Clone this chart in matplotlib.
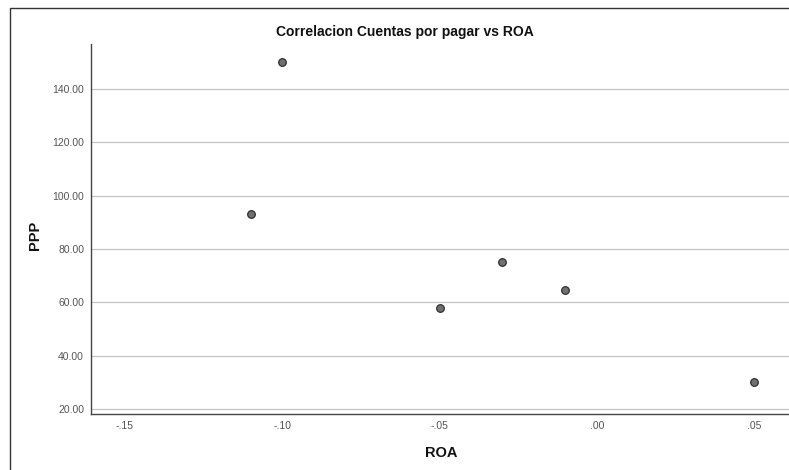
import numpy as np
import matplotlib
matplotlib.use("Agg")
import matplotlib.pyplot as plt
from matplotlib.patches import Rectangle

# datos
roa = [-0.11, -0.10, -0.05, -0.03, -0.01, 0.05]
ppp = [93.0, 150.0, 58.0, 75.0, 64.5, 30.0]

x_ticks = [-0.15, -0.10, -0.05, 0.00, 0.05]
x_labels = ["-.15", "-.10", "-.05", ".00", ".05"]
y_ticks = [20, 40, 60, 80, 100, 120, 140]
y_labels = ["20.00", "40.00", "60.00", "80.00", "100.00", "120.00", "140.00"]

plt.rcParams['font.family'] = ['Liberation Sans', 'DejaVu Sans']

W, H = 789, 470
fig = plt.figure(figsize=(W / 100, H / 100), dpi=100)
fig.patch.set_facecolor("white")

# marco exterior
fig.patches.append(Rectangle((10 / W, -0.2), 1.5, 1.2 - 8 / H + 0.0,
                             transform=fig.transFigure, fill=False,
                             edgecolor="#333333", linewidth=1.0))

ax = fig.add_axes([91 / W, 1 - 414 / H, 1 - 91 / W, (414 - 44) / H])
ax.scatter(roa, ppp, s=30, color="#707070", edgecolor="#2e2e2e",
           linewidth=0.9, zorder=3)

ax.set_xlim(-0.1608, 0.0611)
ax.set_ylim(18.1, 156.9)
ax.set_xticks(x_ticks)
ax.set_xticklabels(x_labels)
ax.set_yticks(y_ticks)
ax.set_yticklabels(y_labels)
ax.tick_params(length=0, labelsize=7.5, labelcolor="#555555", pad=5)

ax.grid(axis="y", color="#c4c4c4", linewidth=0.9)
ax.set_axisbelow(True)
for s in ["top", "right"]:
    ax.spines[s].set_visible(False)
for s in ["left", "bottom"]:
    ax.spines[s].set_color("#444444")
    ax.spines[s].set_linewidth(1.0)

fig.text(405 / W, 1 - 32 / H, "Correlacion Cuentas por pagar vs ROA",
         ha="center", va="center", fontsize=10, fontweight="bold",
         color="#111111")
fig.text(441 / W, 1 - 453 / H, "ROA", ha="center", va="center",
         fontsize=10.5, fontweight="bold", color="#111111")
fig.text(35 / W, 1 - 235 / H, "PPP", ha="center", va="center",
         rotation=90, fontsize=10.5, fontweight="bold", color="#111111")

fig.savefig("out.png", dpi=100)
